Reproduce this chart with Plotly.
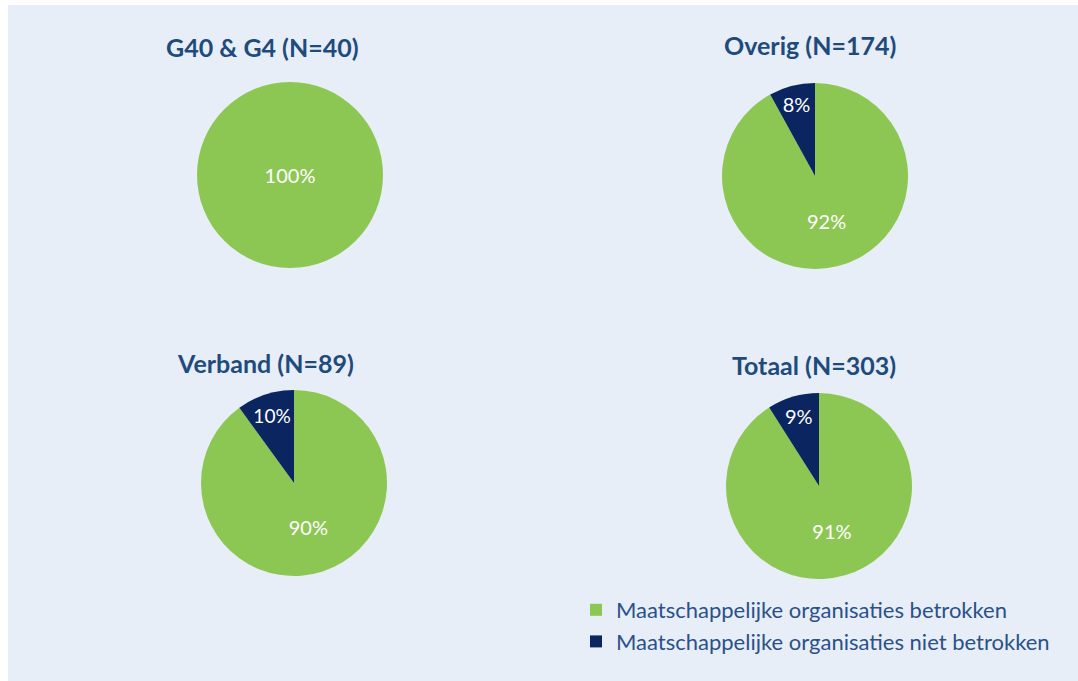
import plotly.graph_objects as go

categories = ["Maatschappelijke organisaties betrokken", "Maatschappelijke organisaties niet betrokken"]
groups = ["G40 & G4 (N=40)", "Overig (N=174)", "Verband (N=89)", "Totaal (N=303)"]
pct_betrokken = [100, 92, 90, 91]
pct_niet = [0, 8, 10, 9]

GREEN = "#8dc753"
NAVY = "#0b2561"
BG = "#e7eef7"
TITLE = "#1f4b7c"
LEG = "#2b5189"
FONT = "Lato"

W, H = 1078, 681
# pie centres / radius in page pixels
centres = [(290, 175), (815, 176), (294, 483), (819, 486)]
R = 93
title_pos = [(262, 47), (810, 45), (265, 363), (814, 365)]


def px_x(x):
    return x / W


def px_y(y):
    return 1 - y / H


fig = go.Figure()
for i, g in enumerate(groups):
    cx, cy = centres[i]
    if pct_niet[i] == 0:
        labels = [categories[0]]
        vals = [pct_betrokken[i]]
        cols = [GREEN]
    else:
        labels = categories
        vals = [pct_betrokken[i], pct_niet[i]]
        cols = [GREEN, NAVY]
    fig.add_trace(go.Pie(
        labels=labels, values=vals, sort=False, direction="clockwise", rotation=0,
        marker=dict(colors=cols, line=dict(width=0)),
        texttemplate="%{value}%", textinfo="text", textposition="inside",
        insidetextorientation="horizontal",
        textfont=dict(color="white", size=20, family=FONT),
        domain=dict(x=[px_x(cx - R), px_x(cx + R)], y=[px_y(cy + R), px_y(cy - R)]),
        showlegend=True, hoverinfo="label+value", name=g,
    ))
    fig.add_annotation(text="<b>" + g + "</b>", x=px_x(title_pos[i][0]), y=px_y(title_pos[i][1]),
                       xref="paper", yref="paper", showarrow=False,
                       font=dict(size=25, color=TITLE, family=FONT), xanchor="center", yanchor="middle")

fig.update_layout(
    width=W, height=H, margin=dict(l=0, r=0, t=0, b=0),
    paper_bgcolor="white", plot_bgcolor=BG,
    font=dict(family=FONT),
    legend=dict(x=px_x(576), y=px_y(589), xanchor="left", yanchor="top",
                font=dict(size=22, color=LEG, family=FONT), bgcolor="rgba(0,0,0,0)"),
    shapes=[dict(type="rect", xref="paper", yref="paper", x0=px_x(8), x1=1, y0=0, y1=px_y(5),
                 fillcolor=BG, line=dict(width=0), layer="below")],
)
fig.write_html("out.html", config={"displayModeBar": False},
               post_script="document.body.style.margin='0';document.body.style.overflow='hidden';")
